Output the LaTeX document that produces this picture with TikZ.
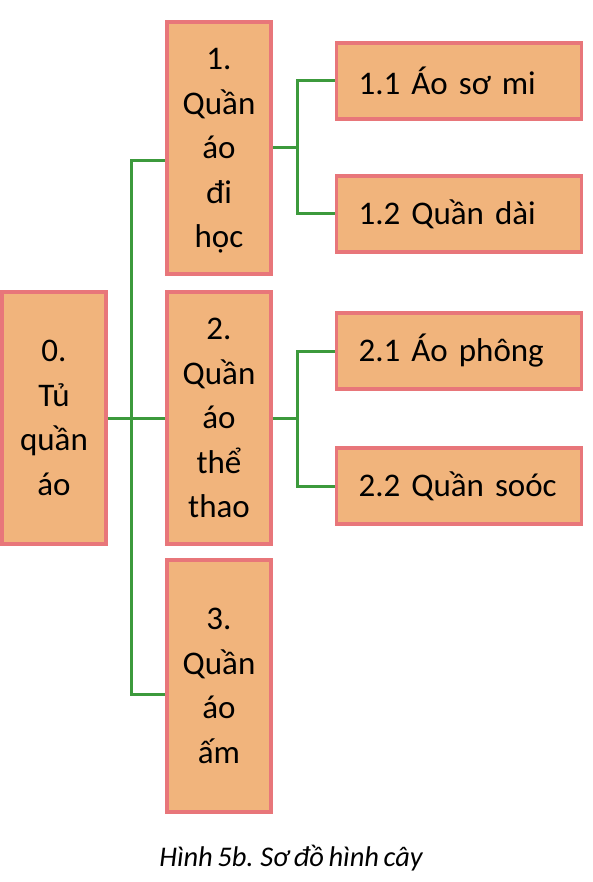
\documentclass[tikz,border=0pt]{standalone}
\usepackage{fontspec}
\setmainfont{Carlito}[WordSpace=0.7]
\usepackage{tikz}
\usetikzlibrary{positioning}

\definecolor{boxfill}{HTML}{F1B47C}
\definecolor{boxline}{HTML}{E8767A}
\definecolor{linkgreen}{HTML}{3C9A3C}

\tikzset{
	box/.style={rectangle, draw=boxline, fill=boxfill, line width=3.2pt,
		minimum width=104pt, minimum height=252pt, align=center, text depth=0pt,
		font=\fontsize{33}{44.5}\selectfont},
	leaf/.style={rectangle, draw=boxline, fill=boxfill, line width=3.2pt,
		anchor=west, minimum height=76pt, text width=201pt, inner xsep=22pt,
		align=left, font=\fontsize{33}{36}\selectfont},
	link/.style={draw=linkgreen, line width=3pt}
}

\begin{document}
\begin{tikzpicture}[x=1pt,y=-1pt]
		\useasboundingbox (0,0) rectangle (592,882);
		\node (root) at (54,418) [box] {0.\\Tủ\\quần\\áo};
		\node (c_1) at (219,148) [box] {1.\\Quần\\áo\\đi\\học};
		\node (c_2) at (219,418) [box] {2.\\Quần\\áo\\thể\\thao};
		\node (c_3) at (219,686) [box] {3.\\Quần\\áo\\ấm};
		\node (l_11) at (335,81) [leaf] {1.1 Áo sơ mi};
		\node (l_12) at (335,214) [leaf] {1.2 Quần dài};
		\node (l_21) at (335,351) [leaf] {2.1 Áo phông};
		\node (l_22) at (335,486) [leaf] {2.2 Quần soóc};
		\node (caption) at (291,858) [font=\fontsize{28.5}{30}\selectfont\itshape] {Hình 5b. Sơ đồ hình cây};
		
		\coordinate (trunk) at (131,418);
		\coordinate (fork_1) at (297,148);
		\coordinate (fork_2) at (297,418);
		
		% tree connectors
		\draw[link] (root) -- (c_2);
		\draw[link] (trunk) |- ([yshift=-13pt]c_1.west);
		\draw[link] (trunk) |- ([yshift=-8pt]c_3.west);
		\draw[link] (c_1) -- (fork_1);
		\draw[link] (fork_1) |- (l_11.west);
		\draw[link] (fork_1) |- (l_12.west);
		\draw[link] (c_2) -- (fork_2);
		\draw[link] (fork_2) |- (l_21.west);
		\draw[link] (fork_2) |- (l_22.west);
	\end{tikzpicture}
\end{document}
